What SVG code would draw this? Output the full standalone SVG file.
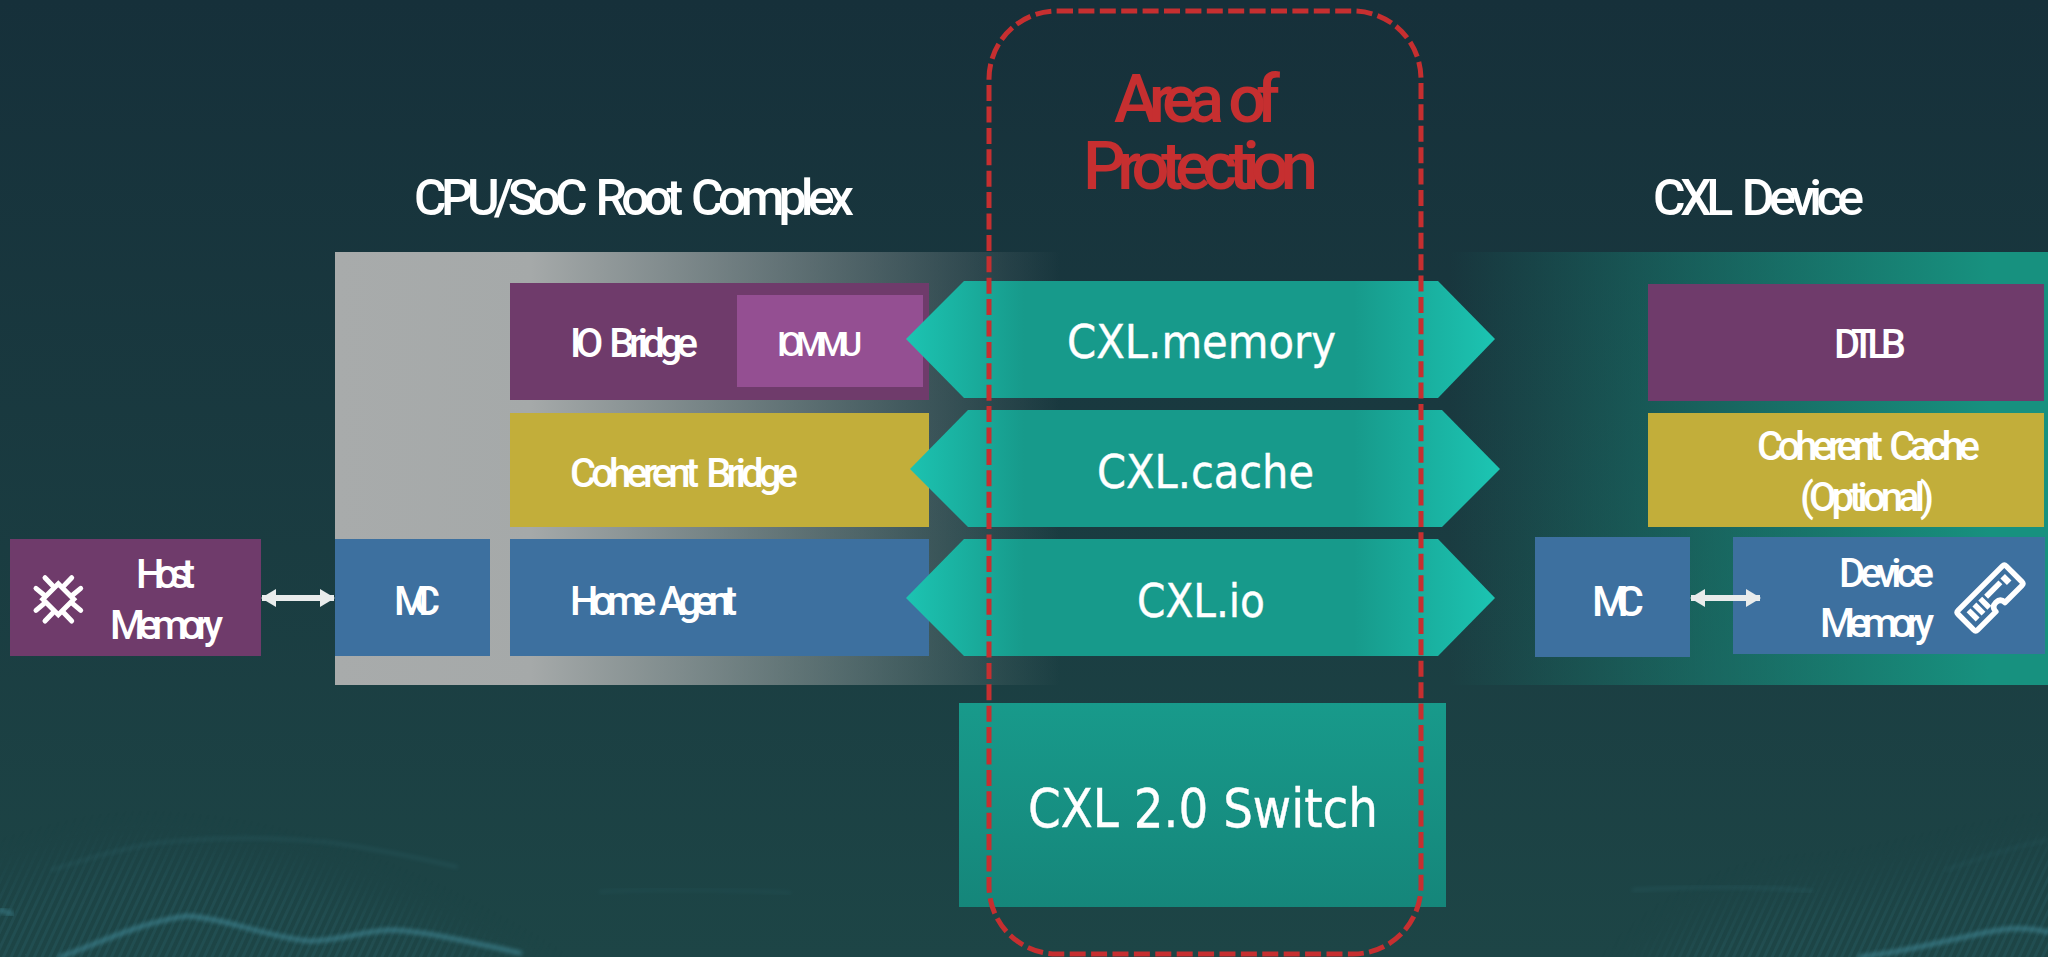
<svg xmlns="http://www.w3.org/2000/svg" width="2048" height="957" viewBox="0 0 2048 957">
<style>
text{font-family:"Roboto","Liberation Sans",sans-serif;fill:#fff;font-weight:500;word-spacing:7px}
.t{font-size:40px}
.h{font-size:50px}
.c{font-family:"DejaVu Sans","Liberation Sans",sans-serif;font-size:47px;font-weight:400;stroke:#fff;stroke-width:.4;word-spacing:0}
.r{font-size:67px;fill:#c62f30}
.pu{fill:#6f3b6b}.pl{fill:#944f92}.ye{fill:#c2ae3a}.bl{fill:#3d709f}
.wave{fill:none;stroke:#3f8593;stroke-linecap:round;filter:url(#soft)}
.ln{stroke:#fff;stroke-width:5;stroke-linecap:round;fill:none}
</style>
<defs>
<linearGradient id="bg" x1="0" y1="0" x2="0" y2="1"><stop offset="0" stop-color="#16303a"/><stop offset="1" stop-color="#1d4546"/></linearGradient>
<linearGradient id="gp" gradientUnits="userSpaceOnUse" x1="335" y1="0" x2="1060" y2="0"><stop offset="0" stop-color="#a8abab"/><stop offset=".27" stop-color="#a5a9a9"/><stop offset="1" stop-color="#a5a9a9" stop-opacity="0"/></linearGradient>
<linearGradient id="tp" gradientUnits="userSpaceOnUse" x1="1450" y1="0" x2="1990" y2="0"><stop offset="0" stop-color="#17917f" stop-opacity="0"/><stop offset="1" stop-color="#17917f"/></linearGradient>
<linearGradient id="ar" gradientUnits="userSpaceOnUse" x1="906" y1="0" x2="1495" y2="0"><stop offset="0" stop-color="#1cc4b2"/><stop offset=".2" stop-color="#179a8b"/><stop offset=".76" stop-color="#179a8b"/><stop offset="1" stop-color="#1cc4b2"/></linearGradient>
<linearGradient id="sw" x1="0" y1="0" x2="0" y2="1"><stop offset="0" stop-color="#189a8b"/><stop offset="1" stop-color="#15867a"/></linearGradient>
<filter id="soft" x="-10%" y="-50%" width="120%" height="200%"><feGaussianBlur stdDeviation="2"/></filter>
<filter id="fadeb" x="-20%" y="-40%" width="140%" height="180%"><feGaussianBlur stdDeviation="22"/></filter>
<pattern id="mesh" width="7" height="7" patternUnits="userSpaceOnUse" patternTransform="rotate(25)"><rect width="3" height="7" fill="#3f8593" opacity=".14"/></pattern>
<mask id="fade" maskUnits="userSpaceOnUse" x="0" y="780" width="2048" height="177"><g filter="url(#fadeb)" fill="#fff"><path d="M-40 900C60 860 120 850 170 855C280 860 400 900 560 1000H-40Z"/><path d="M1620 1000C1700 900 1780 895 1840 895C1920 880 2000 855 2100 850V1000Z"/></g></mask>
<marker id="ah" viewBox="0 0 15 18" refX="14" refY="9" markerWidth="15" markerHeight="18" markerUnits="userSpaceOnUse" orient="auto-start-reverse"><path d="M0 0L15 9L0 18Z" fill="#e9ecec"/></marker>
</defs>
<rect width="2048" height="957" fill="url(#bg)"/>
<g id="background-waves">
<rect x="0" y="780" width="2048" height="177" fill="url(#mesh)" mask="url(#fade)"/>
<path class="wave" stroke-width="2.5" opacity=".22" d="M52 870C90 858 115 850 157 843C220 836 280 838 326 842C370 848 420 858 457 867"/>
<path class="wave" stroke-width="2.5" opacity=".14" d="M600 892C640 888 740 890 790 893"/>
<path class="wave" stroke-width="4" opacity=".8" d="M60 957C95 945 140 922 187 916C225 918 270 938 310 941C345 940 365 930 393 930C430 932 470 942 520 953"/>
<path class="wave" stroke-width="5" opacity=".6" d="M0 910L12 914"/>
<path class="wave" stroke-width="2.5" opacity=".22" d="M1633 890C1700 886 1760 886 1812 891"/>
<path class="wave" stroke-width="2.5" opacity=".14" d="M1946 870C1980 858 2020 845 2048 840"/>
<path class="wave" stroke-width="4" opacity=".8" d="M1860 957C1920 950 1960 936 2000 930C2020 927 2035 929 2048 932"/>
</g>
<g id="panels">
<rect id="root-complex-panel" x="335" y="252" width="730" height="433" fill="url(#gp)"/>
<rect id="device-panel" x="1450" y="252" width="598" height="433" fill="url(#tp)"/>
</g>
<g id="root-complex-title"><text class="h" x="414" y="215" textLength="440">CPU/SoC Root Complex</text></g>
<g id="device-title"><text class="h" x="1653" y="215" textLength="211">CXL Device</text></g>
<g id="host-memory"><rect class="pu" x="10" y="539" width="251" height="117"/>
<path class="ln" d="M58.3 583.8L73.8 599.3L58.3 614.8L42.8 599.3Z"/>
<path class="ln" d="M45 577.7L52.7 585.7M71.7 577.7L64 585.7M80.7 588.3L72.7 595M36 588.3L44 595M45 621L52.7 613M71.7 621L64 613M80.7 610.3L72.7 603.6M36 610.3L44 603.6"/>
<text class="t" x="136" y="588" textLength="59">Host</text><text class="t" x="110" y="639" textLength="113">Memory</text></g>
<g id="host-mc"><rect class="bl" x="335" y="539" width="155" height="117"/><text class="t" x="394" y="615" textLength="46">MC</text></g>
<g id="io-bridge"><rect class="pu" x="510" y="283" width="419" height="117"/><text class="t" x="570" y="357" textLength="128">IO Bridge</text></g>
<g id="iommu"><rect class="pl" x="737" y="295" width="186" height="92"/><text class="t" style="font-size:33px" x="777" y="356" textLength="85">IOMMU</text></g>
<g id="coherent-bridge"><rect class="ye" x="510" y="413" width="419" height="114"/><text class="t" x="570" y="487" textLength="228">Coherent Bridge</text></g>
<g id="home-agent"><rect class="bl" x="510" y="539" width="419" height="117"/><text class="t" x="570" y="615" textLength="167">Home Agent</text></g>
<g id="dtlb"><rect class="pu" x="1648" y="284" width="396" height="117"/><text class="t" x="1834" y="358" textLength="72">DTLB</text></g>
<g id="coherent-cache"><rect class="ye" x="1648" y="413" width="396" height="114"/><text class="t" x="1757" y="460" textLength="223">Coherent Cache</text><text class="t" x="1800" y="511" textLength="134">(Optional)</text></g>
<g id="device-mc"><rect class="bl" x="1535" y="537" width="155" height="120"/><text class="t" style="font-size:42px" x="1592" y="616" textLength="52">MC</text></g>
<g id="device-memory"><rect class="bl" x="1733" y="537" width="312" height="117"/>
<text class="t" x="1839" y="587" textLength="95">Device</text><text class="t" x="1820" y="637" textLength="114">Memory</text>
<g transform="translate(1990 598) rotate(-45) scale(.92)">
<path d="M-34 -15H34Q37 -15 37 -12V12Q37 15 34 15H8Q8 8 1 8Q-6 8 -6 15H-34Q-37 15 -37 12V-12Q-37 -15 -34 -15Z" fill="none" stroke="#fff" stroke-width="6" stroke-linejoin="round"/>
<path d="M-29 -7H-23V7H-29ZM-20 -7H-14V7H-20ZM-11 -7H-5V7H-11ZM-2 -7H20V-1H-2ZM23 -7H30V3H23Z" fill="#fff"/>
</g></g>
<g id="connectors">
<line x1="262" y1="598" x2="334" y2="598" stroke="#e9ecec" stroke-width="6" marker-start="url(#ah)" marker-end="url(#ah)"/>
<line x1="1691" y1="598" x2="1760" y2="598" stroke="#e9ecec" stroke-width="6" marker-start="url(#ah)" marker-end="url(#ah)"/>
</g>
<g id="cxl-memory"><path fill="url(#ar)" d="M906 339L964 281H1438L1495 339L1438 398H964Z"/><text class="c" x="1067" y="358" textLength="269" lengthAdjust="spacingAndGlyphs">CXL.memory</text></g>
<g id="cxl-cache"><path fill="url(#ar)" d="M910 469L968 410H1442L1500 469L1442 527H968Z"/><text class="c" x="1097" y="488" textLength="217" lengthAdjust="spacingAndGlyphs">CXL.cache</text></g>
<g id="cxl-io"><path fill="url(#ar)" d="M906 598L964 539H1438L1495 598L1438 656H964Z"/><text class="c" x="1137" y="617" textLength="128" lengthAdjust="spacingAndGlyphs">CXL.io</text></g>
<g id="cxl-switch"><rect x="959" y="703" width="487" height="204" fill="url(#sw)"/><text class="c" style="font-size:53px" x="1028" y="827" textLength="350" lengthAdjust="spacingAndGlyphs">CXL 2.0 Switch</text></g>
<g id="area-of-protection">
<rect x="989" y="11" width="432" height="943" rx="68" ry="68" fill="none" stroke="#c62f30" stroke-width="5" stroke-dasharray="16 5.4"/>
<text class="r" x="1114" y="122" textLength="166">Area of</text><text class="r" x="1083" y="189" textLength="235">Protection</text>
</g>
</svg>
